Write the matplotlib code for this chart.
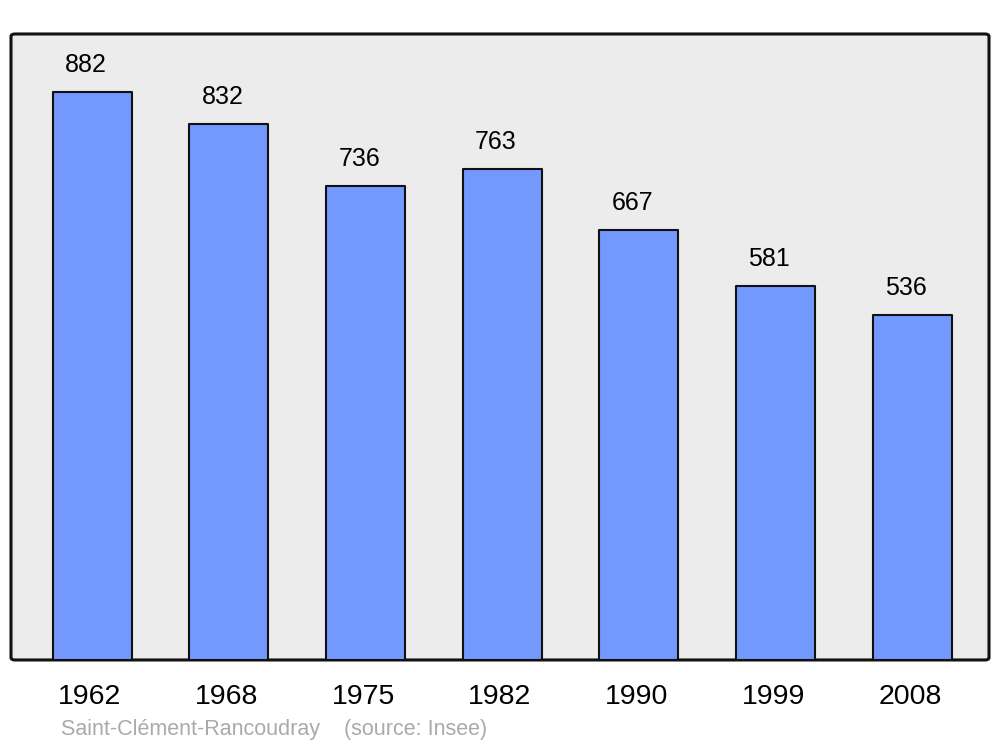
import numpy as np
import matplotlib

matplotlib.use('Agg')
import matplotlib.pyplot as plt
from matplotlib.patches import FancyBboxPatch

plt.rcParams['font.family'] = ['Liberation Sans', 'DejaVu Sans']

# ================ data ================
years = ['1962', '1968', '1975', '1982', '1990', '1999', '2008']
population = [882, 832, 736, 763, 667, 581, 536]
commune = 'Saint-Clément-Rancoudray'
source = '(source: Insee)'

# ================ figure ================
Figure = plt.figure(figsize=(10, 7.47), dpi=100)
ax = Figure.add_axes([0.011, 0.1165, 0.978, 0.838])
ax.set_facecolor('none')
for s in ax.spines.values():
    s.set_visible(False)

# rounded frame in axes coords
frame = FancyBboxPatch((0, 0), 1, 1, boxstyle='round,pad=0,rounding_size=0.004',
                       transform=ax.transAxes, facecolor='#ececec',
                       edgecolor='#111111', linewidth=2.2, zorder=0, clip_on=False)
ax.add_patch(frame)

x = np.arange(len(years))
bars = ax.bar(x, population, width=0.578, color='#7399ff', edgecolor='#111111',
              linewidth=1.5, zorder=2)
for b in bars:
    b.set_joinstyle('round')

for xi, v in zip(x, population):
    ax.annotate(str(v), xy=(xi, v), xytext=(-6, 27), textcoords='offset pixels',
                ha='center', va='center', fontsize=18, color='black')

ax.set_xlim(-0.593, 6.563)
ax.set_ylim(0, 972)
ax.set_yticks([])
ax.set_xticks(x - 0.015)
ax.set_xticklabels(years, fontsize=20.5)
ax.tick_params(axis='x', length=0, pad=17)

Figure.text(0.061, 1 - 730 / 747, commune + '    ' + source, fontsize=15.5,
            color='#aaaaaa', ha='left', va='center')

Figure.savefig('out.png', dpi=100)
